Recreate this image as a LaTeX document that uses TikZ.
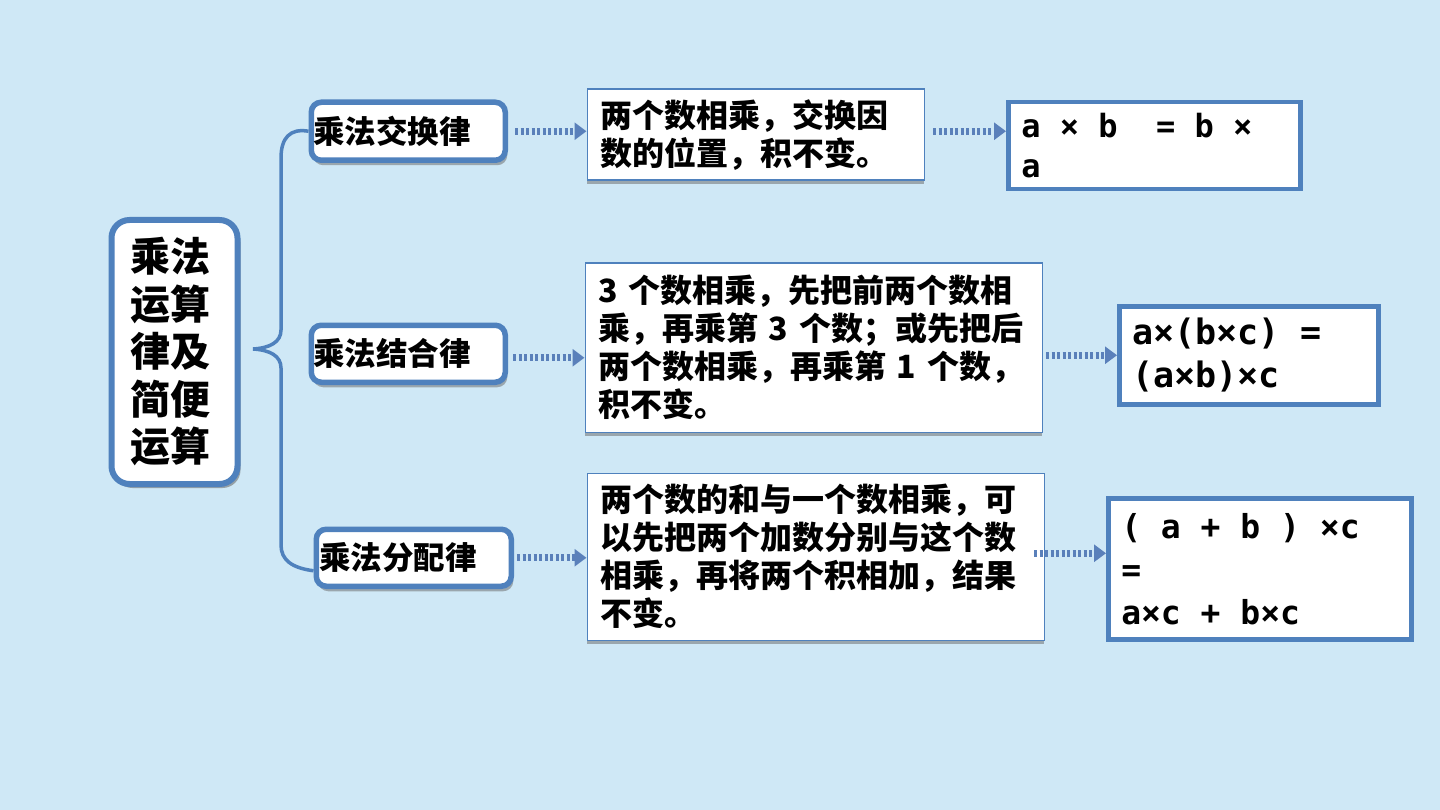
\documentclass[tikz,border=0pt]{standalone}
\usepackage{fontspec}
\usetikzlibrary{arrows.meta, shadows}
\newfontfamily\cjk{Noto Sans CJK SC}
\newfontfamily\mono{DejaVu Sans Mono}
\newcommand{\hueco}{\hphantom{a}}
\definecolor{azulborde}{HTML}{4F81BD}
\definecolor{azulcielo}{HTML}{CFE8F6}
\definecolor{azulflecha}{HTML}{5A80BA}
\colorlet{colBorde}{azulborde}
\colorlet{colFondo}{azulcielo}
\colorlet{colFlecha}{azulflecha}
\colorlet{colSombra}{black!60}
\tikzset{
  cajaBase/.style={
    draw=colBorde, fill=white, anchor=north west,
    inner ysep=0pt, text=black
  },
  cajaTitulo/.style={cajaBase, line width=6pt, rounded corners=18pt,
    inner xsep=19pt, align=left, font=\cjk\bfseries\fontsize{40}{47.5}\selectfont,
    drop shadow={shadow xshift=3pt, shadow yshift=-4pt, fill=colSombra, opacity=.55}},
  cajaLey/.style={cajaBase, line width=5.5pt, rounded corners=10pt,
    inner xsep=2pt, align=left, font=\cjk\bfseries\fontsize{31.5}{38}\selectfont,
    drop shadow={shadow xshift=2pt, shadow yshift=-5pt, fill=colSombra, opacity=.5}},
  cajaTexto/.style={cajaBase, line width=1.5pt, inner xsep=13pt,
    align=left, font=\cjk\bfseries\fontsize{32}{38}\selectfont,
    drop shadow={shadow xshift=0pt, shadow yshift=-4pt, fill=colSombra, opacity=.5}},
  cajaFormula/.style={cajaBase, line width=4.5pt, inner xsep=13pt,
    align=left, font=\mono\bfseries\fontsize{32}{40}\selectfont},
  flechaPunteada/.style={-{Triangle[length=12pt, width=17pt]}, colFlecha,
    line width=7pt, dash pattern=on 3pt off 2.5pt},
  llave/.style={colBorde, line width=3.5pt},
}

\begin{document}
\begin{tikzpicture}[x=1pt, y=-1pt]
  \fill[colFondo] (0,0) rectangle (1440,810);
  \useasboundingbox (0,0) rectangle (1440,810);

  \node[cajaTitulo, minimum width=126pt, minimum height=264pt, text width=88pt]
    (titulo) at (108.5,217) {乘法\\运算\\律及\\简便\\运算};

  \node[cajaLey, minimum width=194pt, minimum height=58pt, text width=190pt]
    (ley1) at (308.5,99.5) {乘法交换律};
  \node[cajaLey, minimum width=194pt, minimum height=57pt, text width=190pt]
    (ley2) at (308.5,322.5) {乘法结合律};
  \node[cajaLey, minimum width=195pt, minimum height=57pt, text width=189pt, inner xsep=3pt]
    (ley3) at (313.5,526.5) {乘法分配律};

  \node[cajaTexto, minimum width=337pt, minimum height=91pt, text width=311pt]
    (desc1) at (586.5,88.5) {两个数相乘，交换因\\数的位置，积不变。};
  \node[cajaTexto, minimum width=457pt, minimum height=169pt, text width=431pt]
    (desc2) at (584.5,262.5) {3 个数相乘，先把前两个数相\\乘，再乘第 3 个数；或先把后\\两个数相乘，再乘第 1 个数，\\积不变。};
  \node[cajaTexto, minimum width=457pt, minimum height=167pt, text width=431pt]
    (desc3) at (586.5,472.5) {两个数的和与一个数相乘，可\\以先把两个加数分别与这个数\\相乘，再将两个积相加，结果\\不变。};

  \node[cajaFormula, minimum width=292pt, minimum height=87pt, text width=266pt]
    (form1) at (1006,100) {a\hueco×\hueco b\hueco\hueco=\hueco b\hueco×\\a};
  \node[cajaFormula, minimum width=259pt, minimum height=98pt, text width=233pt,
    font=\mono\bfseries\fontsize{35}{43}\selectfont]
    (form2) at (1117,304) {a×(b×c)\hueco=\\(a×b)×c};
  \node[cajaFormula, minimum width=303pt, minimum height=141pt, text width=277pt,
    font=\mono\bfseries\fontsize{33}{43}\selectfont]
    (form3) at (1106,496) {(\hueco a\hueco+\hueco b\hueco)\hueco×c\\=\\a×c\hueco+\hueco b×c};

  \draw[llave] (ley1.west) .. controls (290,128) and (281,138) .. (281,158)
    -- (281,330) .. controls (281,342) and (270,348) .. (253,349)
    .. controls (270,350) and (281,356) .. (281,368)
    -- (281,545) .. controls (281,560) and (292,568) .. ([yshift=-13pt]ley3.west);

  \draw[flechaPunteada, shorten <=7pt] (ley1.east) -- (ley1.east -| desc1.west);
  \draw[flechaPunteada, shorten <=8pt] (desc1.east |- ley1.east) -- (form1.west |- ley1.east);
  \draw[flechaPunteada, shorten <=5pt] ([yshift=-4pt]ley2.east) -- ([yshift=-4pt]ley2.east -| desc2.west);
  \draw[flechaPunteada, shorten <=3pt] (desc2.east |- form2.west) -- (form2.west);
  \draw[flechaPunteada, shorten <=3pt] (ley3.east) -- (ley3.east -| desc3.west);
  \draw[flechaPunteada, shorten <=-11pt] ([yshift=15.5pt]form3.west -| desc3.east) -- ([yshift=15.5pt]form3.west);
\end{tikzpicture}
\end{document}
